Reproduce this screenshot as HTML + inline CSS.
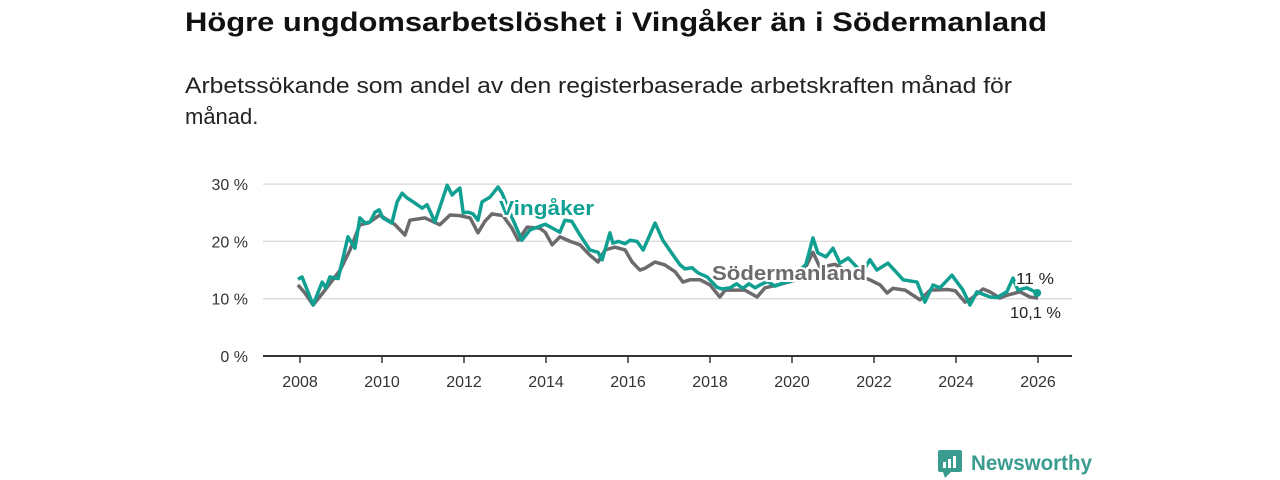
<!DOCTYPE html>
<html><head><meta charset="utf-8"><style>
body{margin:0;background:#fff;width:1280px;height:480px;overflow:hidden}
svg{display:block;font-family:"Liberation Sans","DejaVu Sans",sans-serif}
</style></head><body>
<svg id="c" width="1280" height="480">
<text x="185" y="31" font-size="27" font-weight="bold" fill="#111" textLength="862" lengthAdjust="spacingAndGlyphs">Högre ungdomsarbetslöshet i Vingåker än i Södermanland</text>
<text x="185" y="93" font-size="22" fill="#222" textLength="827" lengthAdjust="spacingAndGlyphs">Arbetssökande som andel av den registerbaserade arbetskraften månad för</text>
<text x="185" y="124" font-size="22" fill="#222">månad.</text>
<g id="grid"></g><g id="lines"></g><g id="labels"></g>
<g>
<rect x="938" y="450" width="24" height="22" rx="2" fill="#3a9c8f"/>
<polygon points="943,472 951,472 945,478" fill="#3a9c8f"/>
<rect x="943" y="462" width="3" height="6" fill="#fff"/><rect x="948" y="459" width="3" height="9" fill="#fff"/><rect x="953" y="456" width="3" height="12" fill="#fff"/>
<text x="971" y="470" font-size="21" fill="#3a9c8f" font-weight="bold" textLength="121" lengthAdjust="spacingAndGlyphs">Newsworthy</text>
</g>
</svg>
<script>
const yTicks=[0,10,20,30];
const xTicks=[2008,2010,2012,2014,2016,2018,2020,2022,2024,2026];
const vDates=[2007.95,2008.05,2008.32,2008.54,2008.63,2008.73,2008.93,2009.17,2009.34,2009.46,2009.59,2009.71,2009.83,2009.93,2010.02,2010.24,2010.37,2010.49,2010.61,2010.76,2010.98,2011.10,2011.29,2011.59,2011.71,2011.78,2011.90,2011.98,2012.10,2012.22,2012.34,2012.44,2012.63,2012.83,2012.93,2013.12,2013.41,2013.61,2013.98,2014.34,2014.46,2014.63,2014.83,2015.07,2015.27,2015.37,2015.56,2015.63,2015.76,2015.93,2016.05,2016.22,2016.37,2016.66,2016.85,2017.10,2017.27,2017.39,2017.56,2017.71,2017.93,2018.17,2018.29,2018.49,2018.65,2018.80,2018.95,2019.10,2019.22,2019.40,2019.59,2019.80,2019.95,2020.10,2020.20,2020.34,2020.51,2020.63,2020.83,2021.00,2021.17,2021.37,2021.49,2021.71,2021.90,2022.07,2022.34,2022.56,2022.71,2023.05,2023.24,2023.44,2023.61,2023.90,2024.17,2024.34,2024.51,2024.83,2025.00,2025.24,2025.39,2025.51,2025.73,2025.98];
const vVals=[13.4,13.8,8.9,12.9,11.9,13.8,13.5,20.8,18.8,24.1,23.2,23.4,25.1,25.5,24.1,23.2,26.9,28.4,27.6,26.9,25.8,26.4,23.4,29.8,28.1,28.6,29.3,25.0,25.1,24.8,23.7,26.9,27.7,29.5,28.4,25.0,20.2,22.0,23.0,21.6,23.7,23.5,21.1,18.5,18.1,16.8,21.5,19.7,20.0,19.6,20.2,20.0,18.5,23.2,20.2,17.6,15.9,15.2,15.4,14.5,13.8,12.0,11.7,11.9,12.6,11.8,12.6,11.9,12.4,13.0,12.2,12.8,13.0,14.5,15.0,16.0,20.6,18.0,17.3,18.8,16.2,17.1,16.2,14.5,16.8,15.0,16.2,14.5,13.3,12.9,9.4,12.4,11.9,14.1,11.5,8.9,11.2,10.3,10.2,11.2,13.6,11.5,11.9,11.0];
const sDates=[2007.95,2008.12,2008.32,2008.61,2008.98,2009.22,2009.46,2009.66,2009.95,2010.32,2010.56,2010.68,2011.05,2011.41,2011.66,2011.90,2012.15,2012.34,2012.51,2012.68,2012.95,2013.17,2013.32,2013.54,2013.85,2013.98,2014.15,2014.34,2014.59,2014.83,2015.07,2015.27,2015.44,2015.68,2015.93,2016.10,2016.29,2016.41,2016.66,2016.90,2017.15,2017.34,2017.51,2017.76,2018.00,2018.24,2018.37,2018.85,2019.15,2019.34,2019.71,2020.20,2020.51,2020.68,2021.05,2021.41,2021.90,2022.15,2022.32,2022.46,2022.76,2023.12,2023.37,2023.80,2023.98,2024.22,2024.39,2024.66,2024.83,2025.07,2025.24,2025.56,2025.80,2026.00];
const sVals=[12.4,11.0,8.9,11.5,15.0,18.5,22.9,23.2,24.6,22.9,21.1,23.7,24.1,22.9,24.6,24.5,24.1,21.5,23.5,24.8,24.5,22.3,20.2,22.5,22.3,21.6,19.4,20.8,20.0,19.4,17.6,16.4,18.5,19.0,18.5,16.4,15.0,15.3,16.4,15.9,14.7,12.9,13.3,13.3,12.4,10.3,11.5,11.5,10.3,11.9,12.5,13.5,18.1,15.5,16.0,14.5,13.3,12.4,11.0,11.8,11.5,9.8,11.5,11.6,11.4,9.4,10.1,11.7,11.2,10.1,10.6,11.2,10.3,10.1];
const X=y=>300+(y-2008)*41, Y=v=>356-v*5.73;
const NS="http://www.w3.org/2000/svg";
function mk(t,a,p){const e=document.createElementNS(NS,t);for(const k in a)e.setAttribute(k,a[k]);p.appendChild(e);return e;}
const g=document.getElementById('grid');
yTicks.forEach(t=>{
 const l=mk('line',{x1:263,x2:1072,y1:Y(t),y2:Y(t),stroke:t?'#ddd':'#333','stroke-width':t?1.5:2},g);
 
 
 const tx=mk('text',{x:248,y:Y(t)+6,'text-anchor':'end','font-size':16,fill:'#333'},g);tx.textContent=t+' %';
 
 
});
xTicks.forEach(t=>{
 const l=mk('line',{x1:X(t),x2:X(t),y1:357,y2:363,stroke:'#333','stroke-width':1.5},g);
 
 
 const tx=mk('text',{x:X(t),y:387,'text-anchor':'middle','font-size':16,fill:'#333'},g);tx.textContent=t;
 
 
});
const L=document.getElementById('lines');
function line(d,v,c,name){
 const p=mk('polyline',{points:d.map((x,i)=>X(x)+','+Y(v[i])).join(' '),fill:'none',stroke:c,'stroke-width':3.5,'stroke-linejoin':'round'},L);
 
 
}
line(sDates,sVals,'#6d6a6e','series-sodermanland');
line(vDates,vVals,'#10a092','series-vingaker');
const dot=mk('circle',{cx:X(vDates[vDates.length-1]),cy:Y(vVals[vVals.length-1]),r:4,fill:'#10a092'},L);


const lb=document.getElementById('labels');
function lab(x,y,t,c,fs,w,len,name){const e=mk('text',{x,y,fill:c,'font-size':fs,'font-weight':w,stroke:'#fff','stroke-width':4,'paint-order':'stroke',textLength:len,lengthAdjust:'spacingAndGlyphs'},lb);e.textContent=t;
 
 }
lab(499,215,'Vingåker','#10a092',20,'bold',95,'label-vingaker');
lab(712,280,'Södermanland','#6d6a6e',20,'bold',154,'label-sodermanland');
lab(1016,284,'11 %','#222',16,'normal',38,'value-label-vingaker');
lab(1010,318,'10,1 %','#222',16,'normal',51,'value-label-sodermanland');
</script>
</body></html>
